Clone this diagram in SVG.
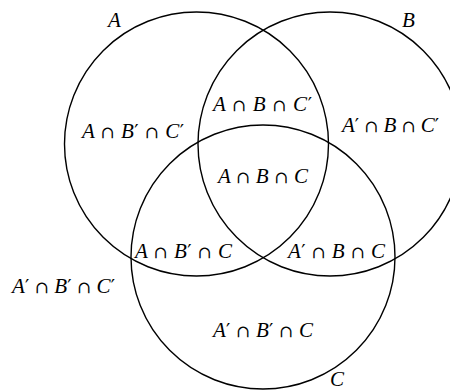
<svg xmlns="http://www.w3.org/2000/svg" width="450" height="390" viewBox="0 0 450 390">
<style>
.set{fill:none;stroke:#000;stroke-width:1.4}
text{font-family:"Liberation Serif","DejaVu Serif",serif;font-size:21px;font-style:italic;fill:#000}
.op{font-style:normal;font-family:"DejaVu Serif","Liberation Serif",serif;font-size:17px}
.pr{font-style:normal;font-family:"DejaVu Serif","Liberation Serif",serif;font-size:19px}
</style>
<rect width="450" height="390" fill="#fff"/>
<g id="setA"><circle class="set" cx="196.5" cy="144" r="132"/><text x="108" y="27">A</text></g>
<g id="setB"><circle class="set" cx="330" cy="144" r="132"/><text x="402" y="27">B</text></g>
<g id="setC"><circle class="set" cx="263" cy="257" r="132"/><text x="330" y="386">C</text></g>
<g id="r-AnBcnCc"><text x="82" y="138" textLength="102" lengthAdjust="spacing">A <tspan class="op">∩</tspan> B<tspan class="pr">′</tspan> <tspan class="op">∩</tspan> C<tspan class="pr">′</tspan></text></g>
<g id="r-AnBnCc"><text x="213" y="111" textLength="99" lengthAdjust="spacing">A <tspan class="op">∩</tspan> B <tspan class="op">∩</tspan> C<tspan class="pr">′</tspan></text></g>
<g id="r-AcnBnCc"><text x="342" y="132" textLength="97" lengthAdjust="spacing">A<tspan class="pr">′</tspan> <tspan class="op">∩</tspan> B <tspan class="op">∩</tspan> C<tspan class="pr">′</tspan></text></g>
<g id="r-AnBnC"><text x="218" y="183" textLength="90" lengthAdjust="spacing">A <tspan class="op">∩</tspan> B <tspan class="op">∩</tspan> C</text></g>
<g id="r-AnBcnC"><text x="135" y="258" textLength="97" lengthAdjust="spacing">A <tspan class="op">∩</tspan> B<tspan class="pr">′</tspan> <tspan class="op">∩</tspan> C</text></g>
<g id="r-AcnBnC"><text x="288" y="258" textLength="97" lengthAdjust="spacing">A<tspan class="pr">′</tspan> <tspan class="op">∩</tspan> B <tspan class="op">∩</tspan> C</text></g>
<g id="r-AcnBcnCc"><text x="12" y="293" textLength="103" lengthAdjust="spacing">A<tspan class="pr">′</tspan> <tspan class="op">∩</tspan> B<tspan class="pr">′</tspan> <tspan class="op">∩</tspan> C<tspan class="pr">′</tspan></text></g>
<g id="r-AcnBcnC"><text x="213" y="337" textLength="100" lengthAdjust="spacing">A<tspan class="pr">′</tspan> <tspan class="op">∩</tspan> B<tspan class="pr">′</tspan> <tspan class="op">∩</tspan> C</text></g>
</svg>
